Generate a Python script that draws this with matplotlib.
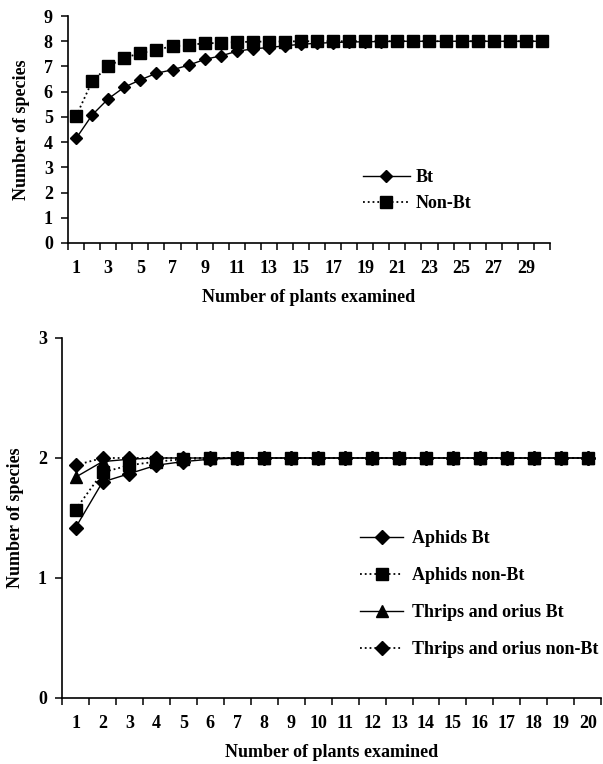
import numpy as np
import matplotlib
matplotlib.use('Agg')
import matplotlib.pyplot as plt
from matplotlib.ticker import FixedLocator

plt.rcParams['font.family'] = ['Liberation Serif', 'DejaVu Serif']
plt.rcParams['font.weight'] = 'bold'
plt.rcParams['axes.labelweight'] = 'bold'

# top panel: species accumulation, 30 plants
plants_top = np.arange(1, 31)
bt_top = [4.15, 5.08, 5.72, 6.18, 6.47, 6.73, 6.87, 7.05, 7.28, 7.42,
          7.6, 7.7, 7.75, 7.82, 7.88, 7.92, 7.95, 7.97, 7.98, 7.99,
          8, 8, 8, 8, 8, 8, 8, 8, 8, 8]
nonbt_top = [5.03, 6.42, 7.0, 7.35, 7.52, 7.67, 7.8, 7.85, 7.92, 7.93,
             7.97, 7.98, 7.99, 7.99, 8, 8, 8, 8, 8, 8,
             8, 8, 8, 8, 8, 8, 8, 8, 8, 8]

# bottom panel: 20 plants
plants_bot = np.arange(1, 21)
aphids_bt = [1.42, 1.80, 1.87, 1.94, 1.97, 1.99] + [2] * 14
aphids_nonbt = [1.57, 1.88, 1.94, 1.97, 1.99] + [2] * 15
thrips_bt = [1.84, 1.97, 1.99] + [2] * 17
thrips_nonbt = [1.94, 2.0, 2.0] + [2] * 17

fig = plt.figure(figsize=(6.03, 7.64), dpi=100)
ax1 = fig.add_axes([0.113, 0.682, 0.799, 0.297])
ax2 = fig.add_axes([0.103, 0.0864, 0.894, 0.4712])

def style_axes(ax, n, labels):
  for s in ['top', 'right']:
    ax.spines[s].set_visible(False)
  for s in ['left', 'bottom']:
    ax.spines[s].set_linewidth(1.2)
  ax.set_xlim(0.5, n + 0.5)
  ax.xaxis.set_major_locator(FixedLocator(labels))
  ax.xaxis.set_minor_locator(FixedLocator(np.arange(0.5, n + 1, 1)))
  ax.tick_params(axis='x', which='major', length=0, labelsize=13, pad=12)
  ax.tick_params(axis='x', which='minor', length=5, width=1.1, direction='out')
  ax.tick_params(axis='y', length=5, width=1.1, labelsize=13, pad=6)
  ax.set_xticklabels([str(v) for v in labels])
  ax.set_xlabel('Number of plants examined', fontsize=13, labelpad=9)
  ax.set_ylabel('Number of species', fontsize=13, labelpad=10)

ax1.plot(plants_top, bt_top, '-', color='black', lw=1, marker='D', ms=6, label='Bt')
ax1.plot(plants_top, nonbt_top, ':', color='black', lw=1.3, marker='s', ms=8, label='Non-Bt')
style_axes(ax1, 30, list(range(1, 31, 2)))
ax1.set_ylim(0, 9)
ax1.set_yticks(range(0, 10))
ax1.legend(loc='upper left', bbox_to_anchor=(0.575, 0.8), bbox_transform=fig.transFigure,
           frameon=False, fontsize=13, handlelength=2.6, labelspacing=0.5, handletextpad=0.3)

ax2.plot(plants_bot, aphids_bt, '-', color='black', lw=1, marker='D', ms=7, label='Aphids Bt')
ax2.plot(plants_bot, aphids_nonbt, ':', color='black', lw=1.3, marker='s', ms=8, label='Aphids non-Bt')
ax2.plot(plants_bot, thrips_bt, '-', color='black', lw=1, marker='^', ms=8, label='Thrips and orius Bt')
ax2.plot(plants_bot, thrips_nonbt, ':', color='black', lw=1.3, marker='D', ms=7, label='Thrips and orius non-Bt')
style_axes(ax2, 20, list(range(1, 21)))
ax2.set_ylim(0, 3)
ax2.set_yticks(range(0, 4))
ax2.legend(loc='upper left', bbox_to_anchor=(0.57, 0.327), bbox_transform=fig.transFigure,
           frameon=False, fontsize=13, handlelength=2.4, labelspacing=1.1, handletextpad=0.5)

fig.savefig('out.png', dpi=100)
